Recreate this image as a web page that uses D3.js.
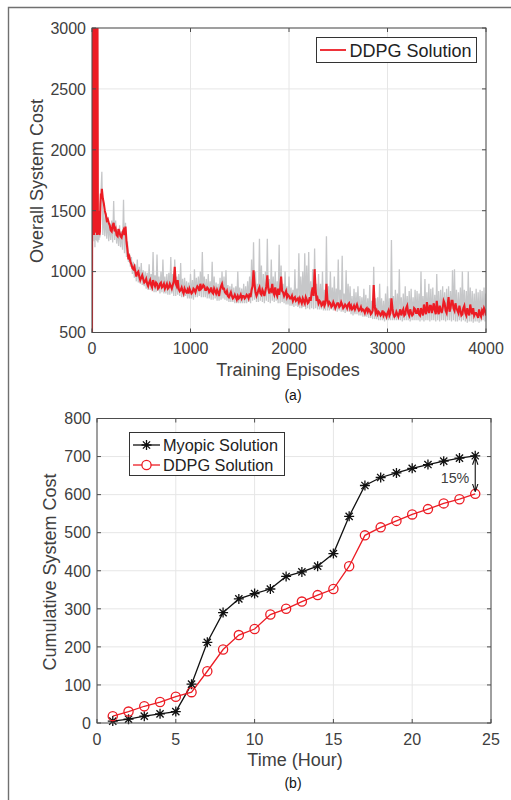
<!DOCTYPE html>
<html><head><meta charset="utf-8">
<script src="https://cdn.jsdelivr.net/npm/d3@7"></script>
<style>
body{margin:0;background:#fff}
svg{display:block}
text{font-family:"Liberation Sans",Arial,Helvetica,sans-serif}
</style>
</head><body>
<svg id="c" width="511" height="800"></svg>
<script>
// ---------------- Data: panel (a) ----------------
const topXTicks = [0, 1000, 2000, 3000, 4000];
const topYTicks = [500, 1000, 1500, 2000, 2500, 3000];
const topSeriesName = "DDPG Solution";
// episodes 0..95 step 5
const earlyRed  = [500,3400,1400,3500,1300,3600,1350,3300,1320,3500,1300,3400,1310,1320,1500,1300,1330,1550,1640,1600];
const earlyGray = [500,1850,1300,1600,1250,1500,1200,1700,1260,1550,1250,1450,1240,1300,1260,1350,1280,1500,1600,1720];
// episodes 100..4000 step 20
const redCost = [
 1680,1560,1470,1430,1380,1330,1400,1350,1290,1320,
 1280,1340,1370,1180,1120,1060,1020,1000,990,960,
 950,940,920,900,910,890,930,880,900,870,
 910,880,860,900,870,880,890,1040,880,860,
 850,840,860,830,820,840,830,850,860,870,
 900,870,880,850,860,840,830,860,820,830,
 850,900,860,820,800,810,800,790,790,800,
 790,780,800,790,800,820,850,1010,830,820,
 870,810,830,840,970,820,840,830,870,800,
 810,960,830,820,790,800,780,760,790,770,
 750,760,780,740,770,750,760,870,1020,760,
 740,750,730,720,900,730,740,720,730,720,
 740,720,730,710,720,730,700,690,720,710,
 700,690,680,680,690,670,680,660,890,660,
 650,660,650,640,650,660,640,780,650,640,
 650,660,640,690,650,720,640,660,650,690,
 660,650,700,640,680,750,660,720,700,680,
 760,650,690,700,740,660,790,700,760,680,
 700,660,680,650,720,640,660,730,650,640,
 660,620,650,680,700,640];
// episodes 110..3990 step 20
const redAlt = [
 1600,1500,1420,1400,1340,1380,1330,1300,1350,1290,
 1320,1300,1250,1100,1080,1030,1040,960,1000,930,
 970,910,940,880,930,870,900,910,860,900,
 870,900,880,860,900,860,920,900,930,840,
 870,820,840,850,860,820,860,830,880,840,
 860,890,850,870,830,870,820,840,850,800,
 880,860,830,840,790,830,780,810,770,780,
 810,800,780,810,780,790,880,900,800,850,
 820,850,800,880,860,850,900,810,820,860,
 860,840,800,840,810,780,800,780,760,780,
 780,740,760,790,740,790,830,800,850,780,
 760,720,760,740,770,750,710,750,700,740,
 710,750,700,730,700,740,720,700,690,730,
 680,710,690,660,700,690,650,680,720,680,
 670,640,680,660,630,680,660,700,630,670,
 630,690,670,640,700,660,690,640,700,660,
 700,640,670,730,650,690,720,660,740,650,
 680,720,660,760,680,720,670,760,700,740,
 680,720,640,700,660,700,640,680,700,660,
 640,690,630,660,680];
const grayHigh = [
 1820,1500,1480,1450,1400,1420,1580,1420,1350,1380,
 1330,1590,1400,1250,1150,1120,1080,1060,1100,1040,
 1070,1010,1000,990,1060,980,1160,970,1140,960,
 1000,1100,960,980,990,1120,980,1100,960,980,
 1070,940,950,920,910,980,930,1020,950,960,
 1000,1160,960,940,980,920,1080,960,910,900,
 950,1000,960,1010,890,880,900,870,880,1000,
 870,860,900,880,920,960,1100,1240,1000,900,
 1270,1050,980,1000,1270,940,1100,960,1000,920,
 1220,1050,900,1000,880,960,870,850,1020,860,
 1150,960,1000,1150,1050,1160,920,1020,1190,900,
 980,900,1000,850,1290,880,1000,870,960,860,
 1100,850,1130,820,1010,900,880,800,860,830,
 880,800,790,860,810,780,890,760,1040,780,
 790,900,780,760,820,880,780,1260,800,850,
 820,1020,790,820,880,800,840,860,790,850,
 840,820,1000,800,940,830,900,860,870,810,
 980,840,850,880,830,860,880,840,1010,1020,
 850,830,870,1000,850,840,1000,870,840,820,
 860,830,850,840,870,820];
const grayLow = [
 1300,1290,1270,1250,1260,1240,1260,1230,1210,1200,
 1180,1150,1120,1080,1040,980,950,920,910,900,
 890,880,860,850,850,840,830,830,840,820,
 830,820,820,810,810,820,800,800,810,800,
 790,790,800,780,780,780,770,790,790,800,
 790,790,790,780,780,770,770,780,760,760,
 770,780,770,760,750,750,750,740,740,740,
 740,740,740,740,750,740,760,770,750,750,
 760,750,740,760,750,740,760,750,760,740,
 740,750,740,730,730,720,720,710,720,710,
 700,700,710,690,700,690,700,690,700,690,
 690,690,680,680,680,680,690,680,680,670,
 680,670,670,660,670,670,650,640,650,650,
 640,640,630,630,630,620,620,610,610,610,
 600,600,600,590,600,600,600,600,600,600,
 600,600,590,600,600,600,590,600,600,600,
 600,590,600,590,600,600,590,600,600,590,
 600,590,600,600,590,600,600,590,600,590,
 590,600,590,600,590,580,590,590,580,590,
 590,580,590,600,590,600];

// ---------------- Data: panel (b) ----------------
const hours = d3.range(1, 25);
const myopicCost = [5,10,18,24,30,102,212,290,326,340,352,385,397,412,445,543,624,645,657,669,679,688,696,702];
const ddpgCost   = [18,30,44,55,69,81,136,193,231,247,285,300,319,336,352,412,493,514,531,548,562,577,588,602];
const botXTicks = [0,5,10,15,20,25];
const botYTicks = [0,100,200,300,400,500,600,700,800];
const botSeriesNames = ["Myopic Solution","DDPG Solution"];
const gapLabel = "15%";

const RED = "#ec1c24", GRAY = "#c6c7c9", TXT = "#404040", AX = "#4d4d4d", GRID = "#e6e6e6";
const svg = d3.select("#c");

// outer frame
svg.append("path").attr("d","M8.5,800V7.5H511").attr("fill","none").attr("stroke","#707070").attr("stroke-width",1.4);

function axesBox(g, x, y, xt, yt) {
  const [x0,x1] = x.range(), [y0,y1] = y.range();
  g.selectAll(".gx").data(xt).join("line").attr("x1",d=>x(d)).attr("x2",d=>x(d)).attr("y1",y0).attr("y2",y1)
    .attr("stroke",GRID).attr("stroke-width",1);
  g.selectAll(".gy").data(yt).join("line").attr("y1",d=>y(d)).attr("y2",d=>y(d)).attr("x1",x0).attr("x2",x1)
    .attr("stroke",GRID).attr("stroke-width",1);
}
function axesFrame(g, x, y, xt, yt, opt) {
  const [x0,x1] = x.range(), [y0,y1] = y.range();
  const tl = 4;
  g.append("rect").attr("x",x0).attr("y",y1).attr("width",x1-x0).attr("height",y0-y1)
    .attr("fill","none").attr("stroke",AX).attr("stroke-width",1);
  xt.forEach(d=>{
    g.append("line").attr("x1",x(d)).attr("x2",x(d)).attr("y1",y0).attr("y2",y0-tl).attr("stroke",AX);
    g.append("line").attr("x1",x(d)).attr("x2",x(d)).attr("y1",y1).attr("y2",y1+tl).attr("stroke",AX);
  });
  yt.forEach(d=>{
    g.append("line").attr("y1",y(d)).attr("y2",y(d)).attr("x1",x0).attr("x2",x0+tl).attr("stroke",AX);
    g.append("line").attr("y1",y(d)).attr("y2",y(d)).attr("x1",x1).attr("x2",x1-tl).attr("stroke",AX);
  });
  g.selectAll(".xl").data(xt).join("text").attr("x",d=>x(d)).attr("y",opt.xLabelY)
    .attr("text-anchor","middle").attr("font-size",16).attr("fill",TXT).text(d=>d);
  g.selectAll(".yl").data(yt).join("text").attr("x",opt.yLabelX).attr("y",d=>y(d)+5.8)
    .attr("text-anchor","end").attr("font-size",16).attr("fill",TXT).text(d=>d);
  g.append("text").attr("x",opt.xTitleX).attr("y",opt.xTitleY).attr("text-anchor","middle")
    .attr("font-size",18).attr("fill",TXT).text(opt.xTitle);
  g.append("text").attr("transform",`translate(${opt.yTitleX},${opt.yTitleY}) rotate(-90)`)
    .attr("text-anchor","middle").attr("font-size",18).attr("fill",TXT).text(opt.yTitle);
  g.append("text").attr("x",opt.capX).attr("y",opt.capY).attr("text-anchor","middle")
    .attr("font-size",14).attr("fill","#111").attr("font-family","'Open Sans','DejaVu Sans',sans-serif").text(opt.cap);
}

// ---------------- Panel (a) ----------------
const xA = d3.scaleLinear().domain([0,4000]).range([92,486]);
const yA = d3.scaleLinear().domain([500,3000]).range([332.5,28]);
const gA = svg.append("g");
axesBox(gA, xA, yA, topXTicks, topYTicks);
svg.append("clipPath").attr("id","clipA").append("rect")
  .attr("x",92).attr("y",28).attr("width",394).attr("height",304.5);

const earlyEp = d3.range(0,100,5);
const mainEp = d3.range(100,4001,20);
const grayPts = earlyEp.map((e,i)=>[e,earlyGray[i]]);
mainEp.forEach((e,i)=>{ grayPts.push([e,grayHigh[i]]); grayPts.push([e+10,grayLow[i]]); });
const redPts = earlyEp.map((e,i)=>[e,earlyRed[i]]);
mainEp.forEach((e,i)=>{ redPts.push([e,redCost[i]]); if (i < redAlt.length) redPts.push([e+10,redAlt[i]]); });
const lineA = d3.line().x(d=>xA(d[0])).y(d=>yA(d[1]));
const plotA = gA.append("g").attr("clip-path","url(#clipA)");
plotA.append("path").attr("d",lineA(grayPts)).attr("fill","none").attr("stroke",GRAY).attr("stroke-width",1.3);
plotA.append("path").attr("d",lineA(redPts)).attr("fill","none").attr("stroke",RED).attr("stroke-width",2.1);

axesFrame(gA, xA, yA, topXTicks, topYTicks, {
  xLabelY:354, yLabelX:86, xTitle:"Training Episodes", xTitleX:288, xTitleY:376,
  yTitle:"Overall System Cost", yTitleX:43, yTitleY:181, cap:"(a)", capX:293, capY:400
});
// legend (a)
const lgA = gA.append("g");
lgA.append("rect").attr("x",316.5).attr("y",37.5).attr("width",160).attr("height",25)
  .attr("fill","#fff").attr("stroke","#333").attr("stroke-width",1);
lgA.append("line").attr("x1",320).attr("x2",346).attr("y1",50).attr("y2",50).attr("stroke",RED).attr("stroke-width",1.8);
lgA.append("text").attr("x",349.5).attr("y",56.5).attr("font-size",18).attr("fill","#222").text(topSeriesName);

// ---------------- Panel (b) ----------------
const xB = d3.scaleLinear().domain([0,25]).range([97,491]);
const yB = d3.scaleLinear().domain([0,800]).range([723,418.5]);
const gB = svg.append("g");
axesBox(gB, xB, yB, botXTicks, botYTicks);

const lineB = d3.line().x((d,i)=>xB(hours[i])).y(d=>yB(d));
gB.append("path").attr("d",lineB(myopicCost)).attr("fill","none").attr("stroke","#111").attr("stroke-width",1.3);
gB.append("path").attr("d",lineB(ddpgCost)).attr("fill","none").attr("stroke",RED).attr("stroke-width",1.3);

function star(g, cx, cy, r, col) {
  const a = r*0.72;
  g.append("path").attr("d",`M${cx-r},${cy}H${cx+r}M${cx},${cy-r}V${cy+r}M${cx-a},${cy-a}L${cx+a},${cy+a}M${cx-a},${cy+a}L${cx+a},${cy-a}`)
    .attr("stroke",col).attr("stroke-width",1.3).attr("fill","none");
}
myopicCost.forEach((v,i)=>star(gB, xB(hours[i]), yB(v), 5, "#111"));
gB.selectAll(".ci").data(ddpgCost).join("circle").attr("cx",(d,i)=>xB(hours[i])).attr("cy",d=>yB(d))
  .attr("r",4.6).attr("fill","none").attr("stroke",RED).attr("stroke-width",1.3);

// double arrow annotation
const defs = svg.append("defs");
defs.append("marker").attr("id","ah").attr("viewBox","0 0 10 10").attr("refX",9).attr("refY",5)
  .attr("markerWidth",7).attr("markerHeight",7).attr("orient","auto-start-reverse")
  .append("path").attr("d","M0,1.5L10,5L0,8.5").attr("fill","none").attr("stroke","#111").attr("stroke-width",1.4);
const ax = xB(hours[23]);
gB.append("line").attr("x1",ax).attr("x2",ax).attr("y1",yB(myopicCost[23])+2).attr("y2",yB(ddpgCost[23])-3)
  .attr("stroke","#111").attr("stroke-width",1.1).attr("marker-start","url(#ah)").attr("marker-end","url(#ah)");
gB.append("text").attr("x",455).attr("y",482.5).attr("text-anchor","middle").attr("font-size",14.3).attr("fill",TXT).text(gapLabel);

axesFrame(gB, xB, yB, botXTicks, botYTicks, {
  xLabelY:744.5, yLabelX:91, xTitle:"Time (Hour)", xTitleX:295, xTitleY:766,
  yTitle:"Cumulative System Cost", yTitleX:56, yTitleY:572, cap:"(b)", capX:293, capY:788
});
// legend (b)
const lgB = gB.append("g");
lgB.append("rect").attr("x",129.5).attr("y",432.5).attr("width",155).attr("height",43)
  .attr("fill","#fff").attr("stroke","#333").attr("stroke-width",1);
lgB.append("line").attr("x1",133).attr("x2",160).attr("y1",445).attr("y2",445).attr("stroke","#111").attr("stroke-width",1.3);
star(lgB, 146.5, 445, 5, "#111");
lgB.append("line").attr("x1",133).attr("x2",160).attr("y1",465).attr("y2",465).attr("stroke",RED).attr("stroke-width",1.3);
lgB.append("circle").attr("cx",146.5).attr("cy",465).attr("r",4.6).attr("fill","#fff").attr("stroke",RED).attr("stroke-width",1.3);
lgB.selectAll(".lt").data(botSeriesNames).join("text").attr("x",163).attr("y",(d,i)=>451+i*20)
  .attr("font-size",16.3).attr("fill","#222").text(d=>d);
</script>
</body></html>
